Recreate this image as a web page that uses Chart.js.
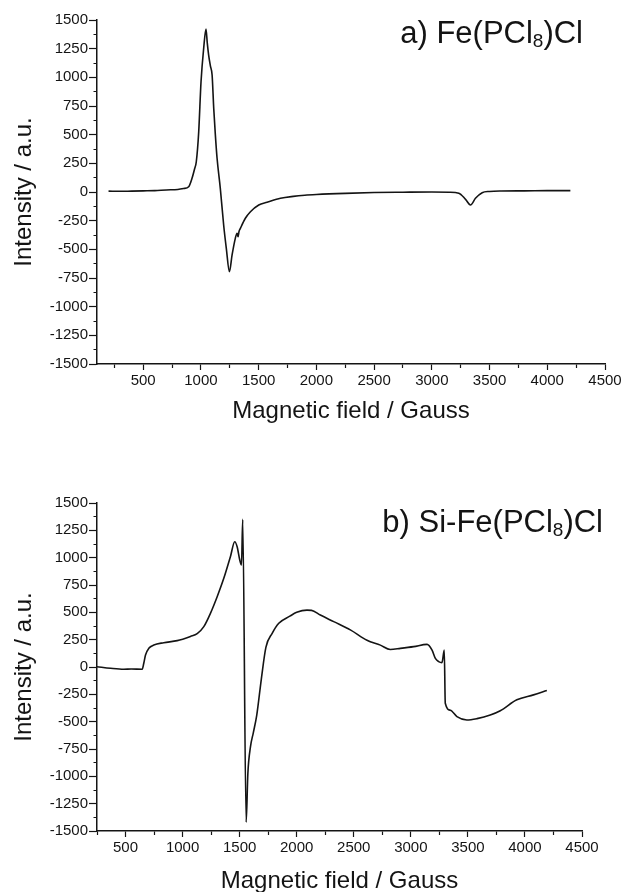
<!DOCTYPE html>
<html>
<head>
<meta charset="utf-8">
<title>EPR spectra</title>
<script src="https://cdn.jsdelivr.net/npm/chart.js@4.4.1/dist/chart.umd.min.js"></script>
<style>
  html, body { margin: 0; padding: 0; background: #fff; overflow: hidden; }
  canvas { display: block; }
</style>
</head>
<body>
<canvas id="chartA" width="624" height="444"></canvas>
<canvas id="chartB" width="624" height="448"></canvas>
<script>
'use strict';

// a) Fe(PCl8)Cl
var fieldA = [200, 300, 400, 500, 600, 700, 800, 850, 894, 923, 945, 960, 981, 1001, 1024, 1044,
  1055, 1067, 1082, 1097, 1111, 1125, 1140, 1168, 1197, 1220, 1247, 1270, 1298, 1313, 1322, 1330,
  1342, 1385, 1429, 1501, 1573, 1689, 1800, 1900, 2000, 2250, 2500, 2750, 3000, 3150, 3234, 3292,
  3335, 3378, 3436, 3500, 3600, 3800, 4000, 4200];
var intensityA = [8, 6, 8, 10, 12, 18, 22, 30, 46, 119, 200, 264, 526, 962, 1253, 1421,
  1300, 1194, 1100, 1020, 730, 500, 294, 32, -288, -491, -695, -549, -404, -360, -390, -345,
  -317, -229, -172, -113, -90, -55, -38, -28, -22, -12, -5, -2, 0, -2, -10, -64,
  -113, -55, -6, 5, 9, 10, 12, 12];

// b) Si-Fe(PCl8)Cl
var fieldB = [250, 369, 485, 550, 646, 660, 675, 704, 748, 835, 953, 1069, 1128, 1186, 1244, 1303,
  1361, 1419, 1457, 1478, 1501, 1516, 1527, 1557, 1572, 1595, 1620, 1650, 1690, 1730, 1785, 1843,
  1940, 2000, 2090, 2130, 2207, 2324, 2470, 2616, 2733, 2820, 2908, 3025, 3142, 3186, 3215, 3244,
  3273, 3293, 3302, 3346, 3404, 3491, 3580, 3696, 3784, 3929, 4075, 4192];
var intensityB = [3, -12, -21, -18, -21, 34, 110, 171, 201, 222, 241, 280, 305, 369, 491, 643,
  811, 1009, 1146, 1100, 979, 933, 1350, -1420, -973, -729, -600, -440, -110, 180, 308, 400,
  465, 500, 520, 518, 475, 415, 340, 245, 200, 160, 170, 186, 207, 155, 79, 49,
  40, 155, -332, -395, -454, -485, -472, -439, -400, -300, -255, -215];

var xMajorTicks = [500, 1000, 1500, 2000, 2500, 3000, 3500, 4000, 4500];
var yMajorTicks = [-1500, -1250, -1000, -750, -500, -250, 0, 250, 500, 750, 1000, 1250, 1500];

var xTitle = 'Magnetic field / Gauss';
var yTitle = 'Intensity / a.u.';

var FONT = '"Liberation Sans", Arial, Helvetica, sans-serif';
var INK = '#141414';

// major ticks plus the unlabelled ones half a step below each
function withMinor(major, half) {
  var all = [];
  for (var i = 0; i < major.length; i++) {
    all.push(major[i] - half);
    all.push(major[i]);
  }
  return all;
}

function isMajor(list, v) {
  return list.indexOf(v) >= 0;
}

// label like "a) Fe(PCl8)Cl" with the 8 as subscript, right aligned
var sampleLabel = {
  id: 'sampleLabel',
  afterDraw: function (chart, args, opts) {
    var c = chart.ctx;
    var parts = opts.parts;
    c.save();
    c.fillStyle = INK;
    c.textBaseline = 'alphabetic';
    c.textAlign = 'left';
    var total = 0;
    var widths = [];
    for (var i = 0; i < parts.length; i++) {
      c.font = (parts[i].sub ? opts.subSize : opts.size) + 'px ' + FONT;
      widths.push(c.measureText(parts[i].text).width);
      total += widths[i];
    }
    var x = opts.right - total;
    for (var j = 0; j < parts.length; j++) {
      c.font = (parts[j].sub ? opts.subSize : opts.size) + 'px ' + FONT;
      c.fillText(parts[j].text, x, opts.baseline + (parts[j].sub ? opts.subDrop : 0));
      x += widths[j];
    }
    c.restore();
  }
};

function makeChart(id, fields, values, xMin, lay, labelParts) {
  var points = [];
  for (var i = 0; i < fields.length; i++) {
    points.push({ x: fields[i], y: values[i] });
  }
  var xTicks = withMinor(xMajorTicks, 250).filter(function (v) { return v >= xMin; });
  var yTicks = withMinor(yMajorTicks, 125).filter(function (v) { return v >= -1500; });

  return new Chart(document.getElementById(id).getContext('2d'), {
    type: 'scatter',
    data: {
      datasets: [{
        data: points,
        showLine: true,
        borderColor: INK,
        borderWidth: 1.6,
        pointRadius: 0,
        cubicInterpolationMode: 'monotone'
      }]
    },
    options: {
      responsive: false,
      animation: false,
      layout: { padding: { top: lay.top, right: lay.right, left: 0, bottom: 0 } },
      plugins: {
        legend: { display: false },
        tooltip: { enabled: false },
        sampleLabel: {
          parts: labelParts,
          right: lay.labelRight,
          baseline: lay.labelBase,
          size: 31,
          subSize: 19,
          subDrop: 4
        }
      },
      scales: {
        x: {
          type: 'linear',
          min: xMin,
          max: 4500,
          afterBuildTicks: function (s) {
            s.ticks = xTicks.map(function (v) { return { value: v }; });
          },
          afterFit: function (s) { s.height = lay.xHeight; },
          border: { color: INK, width: 1.5 },
          grid: {
            drawOnChartArea: false,
            tickLength: 6,
            tickWidth: 1.2,
            tickColor: INK,
            tickBorderDash: function (ctx) {
              return isMajor(xMajorTicks, ctx.tick.value) ? [] : [3.5, 100];
            }
          },
          ticks: {
            autoSkip: false,
            maxRotation: 0,
            padding: 2,
            color: INK,
            font: { family: FONT, size: 15 },
            callback: function (v) { return isMajor(xMajorTicks, v) ? String(v) : ''; }
          },
          title: {
            display: true,
            text: xTitle,
            color: INK,
            font: { family: FONT, size: 24, lineHeight: 0.86 },
            padding: { top: 0, bottom: lay.xTitlePad }
          }
        },
        y: {
          type: 'linear',
          min: -1500,
          max: 1500,
          afterBuildTicks: function (s) {
            s.ticks = yTicks.map(function (v) { return { value: v }; });
          },
          afterFit: function (s) { s.width = 97; },
          border: { color: INK, width: 1.5 },
          grid: {
            drawOnChartArea: false,
            tickLength: 8,
            tickWidth: 1.2,
            tickColor: INK,
            tickBorderDash: function (ctx) {
              return isMajor(yMajorTicks, ctx.tick.value) ? [] : [0, 4.5, 3.5, 100];
            }
          },
          ticks: {
            autoSkip: false,
            padding: 1,
            color: INK,
            font: { family: FONT, size: 15 },
            callback: function (v) { return isMajor(yMajorTicks, v) ? String(v) : ''; }
          },
          title: {
            display: true,
            text: yTitle,
            color: INK,
            font: { family: FONT, size: 24, lineHeight: 0.86 },
            padding: { top: 14, bottom: 0 }
          }
        }
      }
    },
    plugins: [sampleLabel]
  });
}

makeChart('chartA', fieldA, intensityA, 100,
  { top: 20, right: 19, xHeight: 80, xTitlePad: 22, labelRight: 583, labelBase: 43 },
  [{ text: 'a) Fe(PCl' }, { text: '8', sub: true }, { text: ')Cl' }]);

makeChart('chartB', fieldB, intensityB, 250,
  { top: 59, right: 42, xHeight: 61, xTitlePad: 0, labelRight: 603, labelBase: 88 },
  [{ text: 'b) Si-Fe(PCl' }, { text: '8', sub: true }, { text: ')Cl' }]);
</script>
</body>
</html>
